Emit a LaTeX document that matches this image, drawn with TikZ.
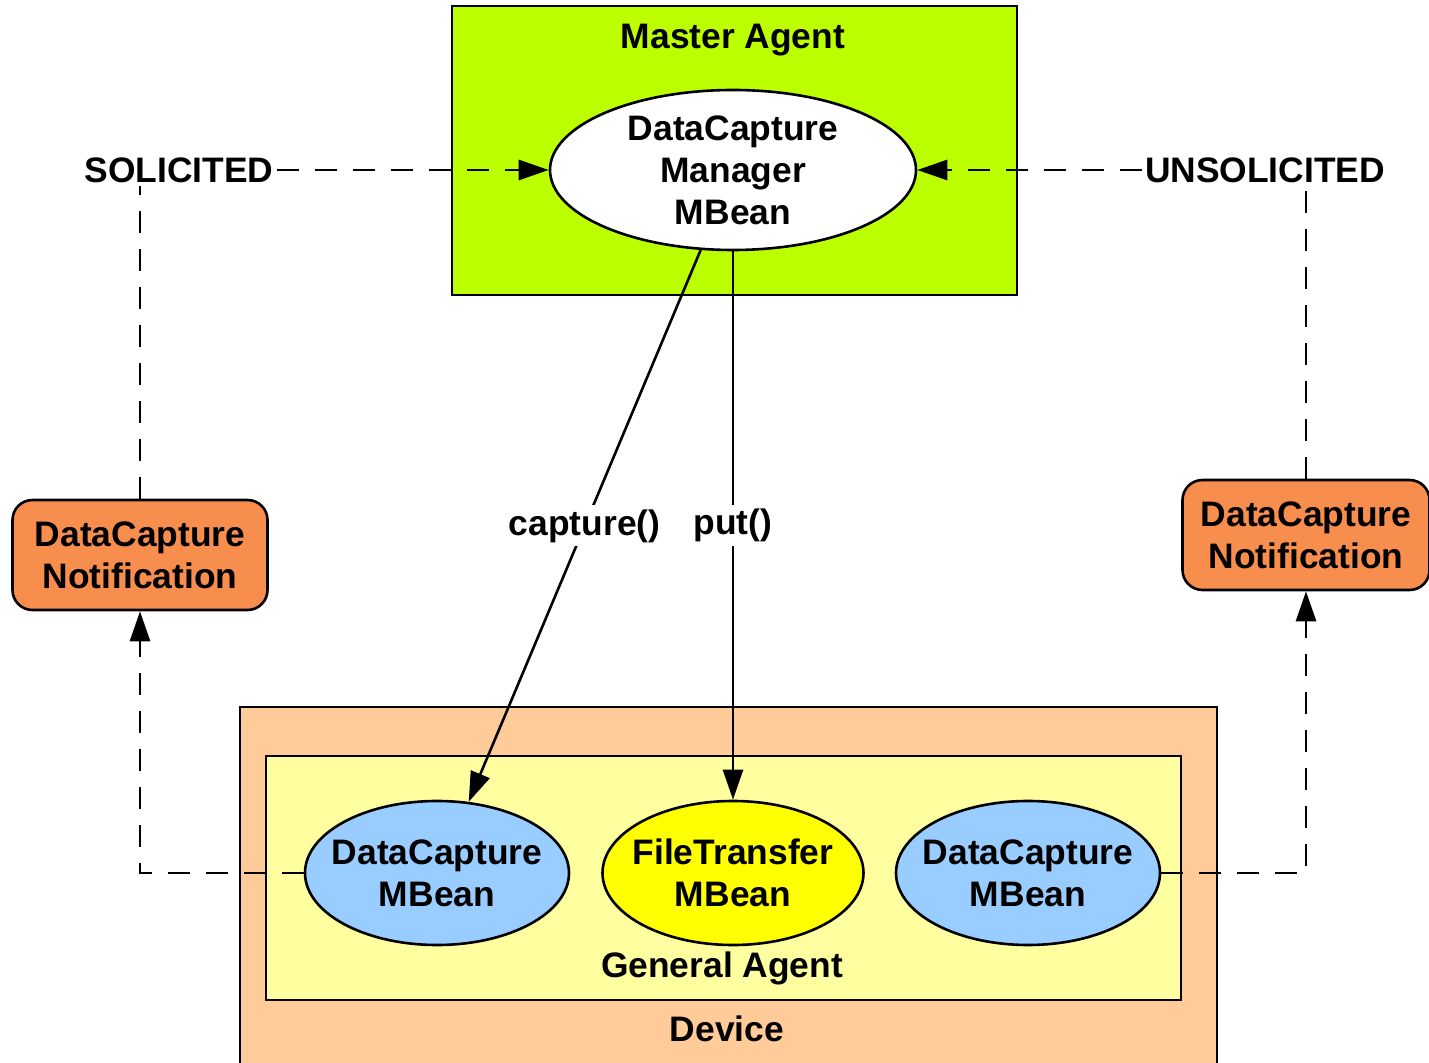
\documentclass[tikz,border=0pt]{standalone}
\usepackage{fontspec}
\setmainfont{Liberation Sans}
\usepackage{tikz}
\usetikzlibrary{shapes.geometric,arrows.meta}
\definecolor{agentgreen}{RGB}{187,255,0}
\definecolor{devicepeach}{RGB}{255,204,153}
\definecolor{generalyellow}{RGB}{255,255,160}
\definecolor{beanblue}{RGB}{153,204,255}
\definecolor{beanyellow}{RGB}{255,255,0}
\definecolor{noteorange}{RGB}{248,142,78}

\begin{document}
\begin{tikzpicture}[x=0.5pt,y=-0.5pt,>={Triangle[length=15pt,width=10pt]},
  font=\fontsize{17.7}{21}\selectfont\bfseries]
 \tikzstyle{boxnode} = [draw=black,line width=1.4pt,rectangle,inner sep=0]
 \tikzstyle{beannode} = [draw=black,line width=1.3pt,ellipse,inner xsep=-10pt,inner ysep=0,align=center]
 \tikzstyle{notenode} = [draw=black,line width=1.3pt,rectangle,rounded corners=10pt,fill=noteorange,inner sep=0,align=center,minimum height=55pt]
 \tikzstyle{textnode} = [inner sep=1.5pt]
 \tikzstyle{calllink} = [line width=1.3pt,->]
 \tikzstyle{eventlink} = [line width=1.4pt,dash pattern=on 11pt off 8pt]

 \useasboundingbox (0,0) rectangle (1429,1063);

% Boxes (device runs off the bottom edge)
 \node[boxnode,fill=agentgreen,minimum width=282.5pt,minimum height=144.5pt] (master) at (734.5,150.5) {};
 \node[textnode] (masterlbl) at (733,40) {Master Agent};
 \node[boxnode,fill=devicepeach,minimum width=488.5pt,minimum height=184pt] (device) at (728.5,891) {};
 \node[textnode] (devicelbl) at (727,1029) {Device};
 \node[boxnode,fill=generalyellow,minimum width=457.5pt,minimum height=122pt] (general) at (723.5,878) {};
 \node[textnode] (generallbl) at (722,968) {General Agent};

% MBeans
 \node[beannode,fill=white,minimum width=183pt,minimum height=80pt] (mgr) at (733,170) {DataCapture\\Manager\\MBean};
 \node[beannode,fill=beanblue,minimum width=132pt,minimum height=72pt] (dcl) at (437,873) {DataCapture\\MBean};
 \node[beannode,fill=beanyellow,minimum width=130.5pt,minimum height=72pt] (ft) at (733,873) {FileTransfer\\MBean};
 \node[beannode,fill=beanblue,minimum width=132pt,minimum height=72pt] (dcr) at (1028,873) {DataCapture\\MBean};

% Notifications
 \node[notenode,minimum width=127.5pt] (ncl) at (140,555) {DataCapture\\Notification};
 \node[notenode,minimum width=123.5pt] (ncr) at (1306,535) {DataCapture\\Notification};
 \node[textnode] (sol) at (179,170) {SOLICITED};
 \node[textnode] (unsol) at (1265,170) {UNSOLICITED};

% Calls
 \draw[calllink] (mgr.248) -- (dcl.66) node[midway,fill=white,inner sep=2pt] (capturelbl) {capture()};
 \draw[calllink] (mgr.south) -- (ft.north) node[midway,fill=white,inner sep=2pt] (putlbl) {put()};

% Events
 \draw[eventlink,->] (sol.east) -- (mgr.west);
 \draw[eventlink,->] (unsol.west) -- (mgr.east);
 \draw[eventlink] (ncl.north) -- (ncl.north |- sol.south);
 \draw[eventlink] (ncr.north) -- (ncr.north |- unsol.south);
 \draw[eventlink,->] (dcl.west) -- (dcl.west -| ncl.south) -- (ncl.south);
 \draw[eventlink,->] (dcr.east) -- (dcr.east -| ncr.south) -- (ncr.south);

\end{tikzpicture}
\end{document}
